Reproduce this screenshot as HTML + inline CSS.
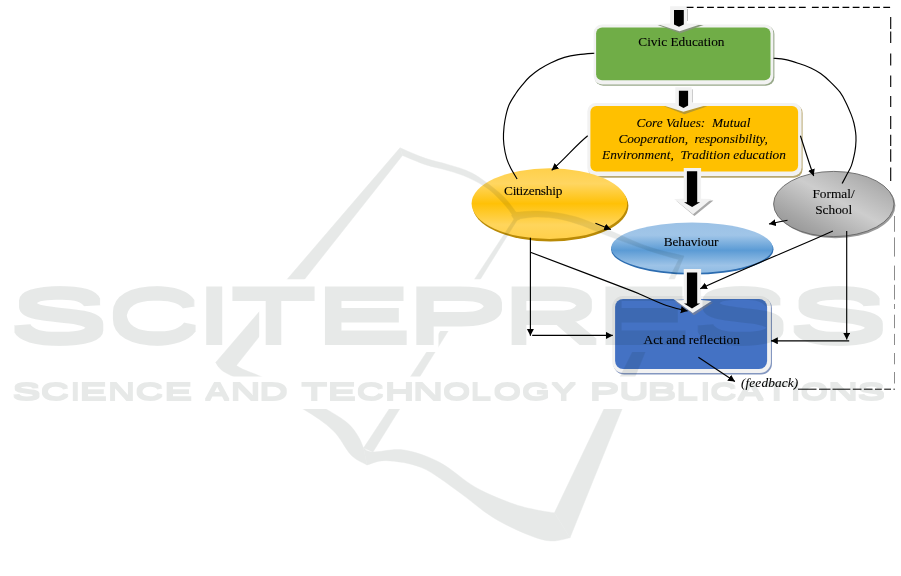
<!DOCTYPE html>
<html lang="en">
<head>
<meta charset="utf-8">
<title>Civic Education model</title>
<style>
html,body{margin:0;padding:0;background:#fff;}
body{width:901px;height:576px;overflow:hidden;position:relative;}
svg{position:absolute;left:0;top:0;display:block;will-change:transform;}
.t{font-family:"Liberation Serif",serif;font-size:13.33px;fill:#000;stroke:#000;stroke-width:0.1px;}
.ti{font-family:"Liberation Serif",serif;font-size:13.33px;font-style:italic;fill:#000;stroke:#000;stroke-width:0.08px;}
.ln{fill:none;stroke:#000;stroke-width:1.15;}
.wm{font-family:"Liberation Sans",sans-serif;font-weight:bold;}
</style>
</head>
<body>
<svg width="901" height="576" viewBox="0 0 901 576">
<defs>
  <linearGradient id="gCit" x1="0" y1="0" x2="0" y2="1">
    <stop offset="0" stop-color="#ffd04a"/>
    <stop offset="0.22" stop-color="#ffd661"/>
    <stop offset="0.5" stop-color="#ffc107"/>
    <stop offset="0.8" stop-color="#ffd55c"/>
    <stop offset="1" stop-color="#ffd04a"/>
  </linearGradient>
  <linearGradient id="gBeh" x1="0" y1="0" x2="0" y2="1">
    <stop offset="0" stop-color="#9cc2e6"/>
    <stop offset="0.25" stop-color="#a0c5e8"/>
    <stop offset="0.55" stop-color="#5b9bd5"/>
    <stop offset="0.85" stop-color="#9dc3e7"/>
    <stop offset="1" stop-color="#8fbbe3"/>
  </linearGradient>
  <linearGradient id="gFor" x1="0.05" y1="0.95" x2="0.95" y2="0.05">
    <stop offset="0" stop-color="#8f8f8f"/>
    <stop offset="0.22" stop-color="#a6a6a6"/>
    <stop offset="0.55" stop-color="#cdcdcd"/>
    <stop offset="0.8" stop-color="#b4b4b4"/>
    <stop offset="1" stop-color="#9d9d9d"/>
  </linearGradient>
  <marker id="ah" markerUnits="userSpaceOnUse" markerWidth="8" markerHeight="8" refX="6.8" refY="3.6" orient="auto">
    <path d="M0,0.1 L6.8,3.6 L0,7.1 Z" fill="#000"/>
  </marker>
</defs>


<!-- ===== Civic Education box ===== -->
<g id="civic">
  <rect x="594.7" y="25.6" width="179.7" height="60.1" rx="8.5" fill="#98a98a"/>
  <rect x="593.6" y="24.4" width="179.7" height="60.1" rx="8.5" fill="#f2f2f2"/>
  <rect x="596.1" y="27.6" width="174.4" height="52.7" rx="6" fill="#70ad47"/>
</g>

<!-- ===== Core values box ===== -->
<g id="core">
  <rect x="588.3" y="104.6" width="214.3" height="73.2" rx="8.5" fill="#b9a871"/>
  <rect x="587.3" y="102.9" width="214.3" height="73.2" rx="8.5" fill="#f2f2f2"/>
  <rect x="590.4" y="105.9" width="207.7" height="65.7" rx="6" fill="#ffc000"/>
</g>

<!-- ===== ellipses ===== -->
<g id="ellipses">
  <ellipse cx="550.5" cy="205.8" rx="77.9" ry="35.6" fill="#b98a06"/>
  <ellipse cx="549.4" cy="203.6" rx="77.8" ry="35.4" fill="url(#gCit)"/>

  <ellipse cx="835.4" cy="205.6" rx="60" ry="32.6" fill="#9a9a9a"/>
  <ellipse cx="833.8" cy="204" rx="60.2" ry="32.6" fill="url(#gFor)" stroke="#676767" stroke-width="0.9"/>

  <ellipse cx="692.3" cy="249.4" rx="81.2" ry="25.2" fill="#2c6cb0"/>
  <ellipse cx="692" cy="247.8" rx="80.8" ry="25.2" fill="url(#gBeh)"/>
</g>

<!-- ===== connector curves over ellipses ===== -->
<g id="curves">
  <path class="ln" d="M594.3,53.2 C591.6,53.4 583.3,53.9 578.3,54.6 C573.3,55.3 569.0,56.0 564.4,57.4 C559.8,58.8 554.8,60.9 550.6,62.9 C546.4,64.9 542.9,66.9 539.4,69.2 C535.9,71.5 532.5,74.3 529.7,76.8 C526.9,79.3 525.1,81.6 522.8,84.4 C520.5,87.2 518.1,90.0 515.8,93.5 C513.5,97.0 510.7,100.9 508.9,105.3 C507.1,109.7 505.9,115.3 505.0,120.0 C504.1,124.7 503.7,129.5 503.5,133.6 C503.3,137.7 503.4,140.5 503.9,144.7 C504.4,148.9 505.5,154.7 506.7,158.6 C507.9,162.5 509.1,164.9 510.8,168.3 C512.5,171.7 516.1,177.2 517.1,179.0"/>
  <path class="ln" d="M773.6,58.2 C775.6,58.4 781.4,58.7 785.8,59.6 C790.1,60.5 795.5,62.4 799.7,63.8 C803.9,65.1 807.3,66.3 810.8,67.9 C814.3,69.5 817.4,71.2 820.6,73.5 C823.9,75.8 827.1,78.7 830.3,81.8 C833.5,84.9 837.5,88.8 840.0,92.2 C842.5,95.6 843.8,98.2 845.6,101.9 C847.5,105.6 849.7,110.9 851.1,114.4 C852.5,117.9 853.1,120.0 853.9,123.0 C854.6,126.0 855.2,129.3 855.6,132.2 C856.0,135.1 856.1,137.3 856.0,140.6 C855.9,143.8 855.7,147.5 854.9,151.7 C854.1,155.9 852.8,161.7 851.4,165.6 C850.0,169.5 848.0,172.3 846.5,175.3 C845.0,178.3 842.8,182.2 842.1,183.6"/>
</g>

<!-- ===== Act and reflection box ===== -->
<g id="act">
  <rect x="613.3" y="297.6" width="158.7" height="76.9" rx="11" fill="#8497c0"/>
  <rect x="612.2" y="296" width="158.7" height="76.9" rx="11" fill="#f2f2f2"/>
  <rect x="615.1" y="299" width="152" height="70.1" rx="8" fill="#4472c4"/>
</g>

<!-- ===== block arrows ===== -->
<g id="blockarrows">
  <!-- arrow 1 (top) -->
  <polygon points="657.6,24.9 703.6,24.9 680.3,33.3" fill="#86967a"/>
  <path d="M687.5,9 V21" stroke="#b9b9b9" stroke-width="0.9" fill="none"/>
  <polygon points="670.1,6.2 686.8,6.2 686.8,23.6 701.7,24 679.5,31.2 657,24 670.1,23.6" fill="#f2f2f2"/>
  <polygon points="674,10 683.8,10 683.8,24.6 679,26.7 674,24.6" fill="#000"/>
  <!-- arrow 2 -->
  <polygon points="664,106.2 707.4,106.2 684.4,114.3" fill="#b8992f"/>
  <path d="M692.3,89.3 V102.5" stroke="#b9b9b9" stroke-width="0.9" fill="none"/>
  <polygon points="675.3,87.3 691.6,87.3 691.6,104.5 706,105.2 683.4,111.8 662.8,105.2 675.3,104.5" fill="#f2f2f2"/>
  <polygon points="678.9,90.8 688.1,90.8 688.1,105.6 683.5,107.9 678.9,105.6" fill="#000"/>
  <!-- arrow 3 -->
  <polygon points="676,200.4 713.4,200.4 694.4,216" fill="#a9a9a9"/>
  <polygon points="683.75,168.1 701.1,168.1 701.1,198.8 711.6,199 693.1,214.2 674.1,199 683.75,198.8" fill="#f2f2f2"/>
  <polygon points="686.9,171.25 697.2,171.25 697.2,202.2 700.1,202.2 692.1,206.9 684,202.2 686.9,202.2" fill="#000"/>
  <!-- arrow 4 -->
  <polygon points="675,301.6 713.2,302.4 694,315.2" fill="#6f7fa3"/>
  <polygon points="683.75,269.1 701.1,269.1 701.1,300 711.6,301 692.8,313 673.5,299 683.75,299.4" fill="#f2f2f2"/>
  <polygon points="686.9,272.4 697.2,272.4 697.2,303.5 700.1,303.5 692,308.4 684,303.5 686.9,303.5" fill="#000"/>
</g>

<!-- ===== thin connectors ===== -->
<g id="lines">
  <!-- core -> citizenship -->
  <path class="ln" d="M587.7,135.7 C575,146 566,158 551.7,170.2" marker-end="url(#ah)"/>
  <!-- core -> formal -->
  <path class="ln" d="M800.4,135.7 C805,150 809,163 813.7,176" marker-end="url(#ah)"/>
  <!-- citizenship -> behaviour -->
  <path class="ln" d="M595.4,223.3 L611,229.5" marker-end="url(#ah)"/>
  <!-- formal -> behaviour -->
  <path class="ln" d="M787.5,220.2 C781,221.5 776,222.6 769,224" marker-end="url(#ah)"/>
  <!-- citizenship down + right -->
  <path class="ln" d="M530.4,237.8 L530.4,335.8" marker-end="url(#ah)"/>
  <path class="ln" d="M532.2,335.4 L612.8,335.4" marker-end="url(#ah)"/>
  <!-- citizenship diagonal to act -->
  <path class="ln" d="M530.4,252.2 L588.8,274.4 L633.2,291.4 C647,297 658,302.5 666.5,305.5 C674,308 681,309.8 687.6,311" marker-end="url(#ah)"/>
  <!-- formal down + left -->
  <path class="ln" d="M846.7,231 L846.7,339.6" marker-end="url(#ah)"/>
  <path class="ln" d="M849.2,340.8 L771,340.8" marker-end="url(#ah)"/>
  <!-- formal diagonal -->
  <path class="ln" d="M832.9,231 C800,246 745,268 700.2,288.8" marker-end="url(#ah)"/>
  <!-- feedback arrow -->
  <path class="ln" d="M698.4,357.2 L734.9,381.5" marker-end="url(#ah)"/>
</g>

<!-- ===== dashed feedback loop ===== -->
<g id="dashes" fill="none" stroke="#000" stroke-width="1.1">
  <path d="M686.7,7.4 H806.2" stroke-dasharray="6.8 3.4"/>
  <path d="M811.9,7.4 H891.3" stroke-dasharray="6.8 3.4"/>
  <path d="M890.7,16.9V28.9 M890.7,31.6V42.9 M890.7,53.5V65.5 M890.7,75.6V86.9 M890.7,96V107 M890.7,116V129 M890.7,134.7V146 M890.7,149.3V161.8 M890.7,167.4V181"/>
  <path stroke="#6e6e6e" stroke-width="0.8" d="M894.5,216V231.8 M894.5,237.4V256.6 M894.5,265.6V280.3 M894.5,284.8V299.5 M894.5,304V309 M894.5,314.7V328.2 M894.5,333.9V345 M894.5,353V364.3 M894.5,372V383.5"/>
  <path stroke-width="1" d="M798,389.2H816.5 M819,389.2H830.5 M832.5,389.2H850.4 M852.8,389.2H861.5 M863.9,389.2H872.5 M875,389.2H881.8 M884.2,389.2H891 M893.5,389.2H894.8"/>
</g>

<!-- ===== labels ===== -->
<g id="labels">
  <text class="t" x="681.4" y="46.3" text-anchor="middle">Civic Education</text>
  <text class="ti" x="693.5" y="126.6" text-anchor="middle" xml:space="preserve">Core Values:  Mutual</text>
  <text class="ti" x="618.4" y="143.1" textLength="149.4" xml:space="preserve">Cooperation,  responsibility,</text>
  <text class="ti" x="694" y="159.4" text-anchor="middle" xml:space="preserve">Environment,  Tradition education</text>
  <text class="t" x="504" y="194.5" textLength="58.4">Citizenship</text>
  <text class="t" x="833.5" y="197.7" text-anchor="middle">Formal/</text>
  <text class="t" x="833.7" y="213.7" text-anchor="middle">School</text>
  <text class="t" x="663.7" y="245.8" textLength="54.8">Behaviour</text>
  <text class="t" x="691.7" y="343.9" text-anchor="middle">Act and reflection</text>
  <text class="ti" x="741" y="386.6" textLength="57.2">(feedback)</text>
</g>

<!-- ===== SCITEPRESS watermark (overlay) ===== -->
<g id="watermark" fill="#0a1e14" opacity="0.095">
  <!--WM-LOGO-START-->
  <clipPath id="wmclip">
    <rect x="0" y="0" width="901" height="279.2"/>
    <rect x="0" y="352" width="901" height="24.4"/>
    <rect x="0" y="409" width="901" height="167"/>
    <rect x="222" y="301" width="37.2" height="52"/>
    <rect x="438.5" y="331" width="30" height="22"/>
  </clipPath>
  <g clip-path="url(#wmclip)" stroke="#0a1e14" stroke-width="0.4" stroke-linejoin="round">
    <path d="M400,147.8 L215.8,362.3 L219,367 L236,366 L402.5,155.5 Z"/>
    <path d="M400.0,147.8 C404.2,149.6 417.6,155.5 425.5,158.3 C433.4,161.1 439.9,162.0 447.7,164.4 C455.4,166.8 463.8,168.7 472.0,173.0 C480.2,177.3 490.7,185.7 496.7,190.4 C502.7,195.2 504.8,197.9 508.0,201.5 C511.2,205.1 514.7,210.4 516.0,212.2 L513.6,217.2 C512.3,215.4 510.1,211.1 506.0,206.5 C501.9,201.9 495.2,194.4 489.0,189.6 C482.8,184.8 475.4,181.0 468.5,177.8 C461.6,174.6 454.9,172.7 447.7,170.5 C440.5,168.3 433.0,167.2 425.5,164.7 C418.0,162.2 406.3,157.0 402.5,155.5 Z"/>
    <path d="M516.0,212.2 C519.6,212.0 530.4,210.8 537.7,211.0 C545.0,211.2 552.6,212.0 560.0,213.3 C567.4,214.6 573.5,215.9 582.0,218.8 C590.5,221.8 600.0,226.4 611.0,231.0 C622.0,235.6 635.8,242.4 648.0,246.6 C660.2,250.8 678.0,254.4 684.0,256.0 L678.6,259.6 C673.5,258.1 660.4,254.6 648.0,250.4 C635.6,246.2 615.3,238.7 604.3,234.6 C593.3,230.5 589.4,228.2 582.0,225.6 C574.6,223.0 567.4,220.6 560.0,219.2 C552.6,217.8 544.8,217.0 537.7,217.0 C530.6,217.0 520.9,218.8 517.5,219.2 Z"/>
    <path d="M511.5,215.5 L516,211.8 L519.5,219.4 L515,221 Z"/>
    <path d="M514.6,218.2 L517.4,219.8 L373,452 L363.5,448 Z"/>
    <path d="M684,256 L570,537.8 L554.4,512.8 L604.4,408 L678.6,259.6 Z"/>
    <path d="M215.8,362.3 C216.4,363.2 217.5,366.1 219.5,368.0 C221.5,369.9 220.9,370.3 228.0,374.0 C235.1,377.7 249.5,384.2 262.0,390.0 C274.5,395.8 291.2,402.2 303.0,409.0 C314.8,415.8 325.0,422.8 333.0,430.5 C341.0,438.2 345.3,449.2 351.0,455.0 C356.7,460.8 364.3,463.3 367.0,465.0 L363.5,448.0 C362.6,446.0 360.7,440.2 358.0,436.0 C355.3,431.8 352.8,427.5 347.5,423.0 C342.2,418.5 335.6,414.5 326.0,409.0 C316.4,403.5 300.9,395.4 290.0,390.0 C279.1,384.6 268.7,379.9 260.8,376.4 C252.9,372.9 247.1,371.1 242.5,369.0 C237.9,366.9 235.0,364.5 233.5,363.6 Z"/>
    <path d="M363.5,448.0 C365.1,448.7 366.2,451.7 373.0,452.0 C379.8,452.3 392.8,448.2 404.0,450.0 C415.2,451.8 428.2,456.3 440.0,462.5 C451.8,468.7 463.2,480.2 475.0,487.0 C486.8,493.8 500.9,499.2 511.0,503.0 C521.1,506.8 528.4,508.1 535.6,509.7 C542.8,511.3 551.3,512.3 554.4,512.8 L570.0,537.8 C566.8,538.3 557.9,541.5 551.0,541.0 C544.1,540.5 538.3,538.9 528.6,535.0 C518.9,531.1 504.9,524.8 493.0,517.5 C481.1,510.2 469.3,499.3 457.5,491.0 C445.7,482.7 433.8,472.9 422.0,467.8 C410.2,462.8 395.7,461.2 386.5,460.7 C377.3,460.2 370.2,464.3 367.0,465.0 Z"/>
  </g>
  <!--WM-LOGO-END-->
  <!--WM-TEXT-START-->
  <filter id="wmf" x="0" y="270" width="901" height="90" filterUnits="userSpaceOnUse" color-interpolation-filters="sRGB"><feMorphology operator="erode" radius="3 0"/><feMorphology operator="dilate" radius="0 3"/></filter>
  <g filter="url(#wmf)"><text class="wm" font-size="100" transform="matrix(1,0,0,0.7573,0,341.60)" y="0"><tspan x="6.31" textLength="106.32" lengthAdjust="spacingAndGlyphs">S</tspan><tspan x="104.20" textLength="98.53" lengthAdjust="spacingAndGlyphs">C</tspan><tspan x="193.08" textLength="42.43" lengthAdjust="spacingAndGlyphs">I</tspan><tspan x="227.82" textLength="91.49" lengthAdjust="spacingAndGlyphs">T</tspan><tspan x="311.44" textLength="104.26" lengthAdjust="spacingAndGlyphs">E</tspan><tspan x="402.46" textLength="108.08" lengthAdjust="spacingAndGlyphs">P</tspan><tspan x="498.88" textLength="103.87" lengthAdjust="spacingAndGlyphs">R</tspan><tspan x="592.25" textLength="102.24" lengthAdjust="spacingAndGlyphs">E</tspan><tspan x="690.07" textLength="102.53" lengthAdjust="spacingAndGlyphs">S</tspan><tspan x="785.80" textLength="106.43" lengthAdjust="spacingAndGlyphs">S</tspan></text></g>
  <filter id="wmf2" x="0" y="370" width="901" height="45" filterUnits="userSpaceOnUse" color-interpolation-filters="sRGB"><feMorphology operator="dilate" radius="0 1"/></filter>
  <g filter="url(#wmf2)"><text class="wm" font-size="100" transform="matrix(1,0,0,0.2340,0,400.40)" y="0"><tspan x="12.04" textLength="29.28" lengthAdjust="spacingAndGlyphs">S</tspan><tspan x="40.33" textLength="29.38" lengthAdjust="spacingAndGlyphs">C</tspan><tspan x="70.58" textLength="9.64" lengthAdjust="spacingAndGlyphs">I</tspan><tspan x="79.03" textLength="28.65" lengthAdjust="spacingAndGlyphs">E</tspan><tspan x="107.41" textLength="28.01" lengthAdjust="spacingAndGlyphs">N</tspan><tspan x="134.97" textLength="28.72" lengthAdjust="spacingAndGlyphs">C</tspan><tspan x="163.67" textLength="29.25" lengthAdjust="spacingAndGlyphs">E</tspan> <tspan x="204.09" textLength="26.48" lengthAdjust="spacingAndGlyphs">A</tspan><tspan x="230.12" textLength="31.08" lengthAdjust="spacingAndGlyphs">N</tspan><tspan x="258.84" textLength="29.79" lengthAdjust="spacingAndGlyphs">D</tspan> <tspan x="300.91" textLength="26.56" lengthAdjust="spacingAndGlyphs">T</tspan><tspan x="326.92" textLength="29.72" lengthAdjust="spacingAndGlyphs">E</tspan><tspan x="356.30" textLength="28.17" lengthAdjust="spacingAndGlyphs">C</tspan><tspan x="384.27" textLength="30.59" lengthAdjust="spacingAndGlyphs">H</tspan><tspan x="412.42" textLength="31.08" lengthAdjust="spacingAndGlyphs">N</tspan><tspan x="442.41" textLength="28.32" lengthAdjust="spacingAndGlyphs">O</tspan><tspan x="470.25" textLength="21.43" lengthAdjust="spacingAndGlyphs">L</tspan><tspan x="492.99" textLength="28.55" lengthAdjust="spacingAndGlyphs">O</tspan><tspan x="521.38" textLength="28.82" lengthAdjust="spacingAndGlyphs">G</tspan><tspan x="550.64" textLength="25.89" lengthAdjust="spacingAndGlyphs">Y</tspan> <tspan x="588.93" textLength="30.64" lengthAdjust="spacingAndGlyphs">P</tspan><tspan x="618.77" textLength="30.40" lengthAdjust="spacingAndGlyphs">U</tspan><tspan x="647.12" textLength="29.96" lengthAdjust="spacingAndGlyphs">B</tspan><tspan x="676.12" textLength="22.62" lengthAdjust="spacingAndGlyphs">L</tspan><tspan x="700.24" textLength="10.22" lengthAdjust="spacingAndGlyphs">I</tspan><tspan x="709.75" textLength="27.28" lengthAdjust="spacingAndGlyphs">C</tspan><tspan x="736.31" textLength="28.63" lengthAdjust="spacingAndGlyphs">A</tspan><tspan x="764.14" textLength="24.90" lengthAdjust="spacingAndGlyphs">T</tspan><tspan x="790.54" textLength="10.22" lengthAdjust="spacingAndGlyphs">I</tspan><tspan x="799.99" textLength="28.55" lengthAdjust="spacingAndGlyphs">O</tspan><tspan x="827.42" textLength="31.08" lengthAdjust="spacingAndGlyphs">N</tspan><tspan x="857.05" textLength="28.83" lengthAdjust="spacingAndGlyphs">S</tspan></text></g>
  <!--WM-TEXT-END-->
</g>
</svg>
</body>
</html>
